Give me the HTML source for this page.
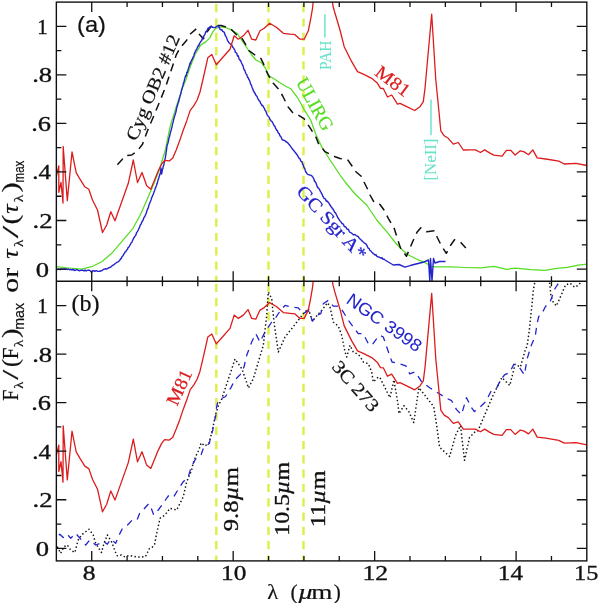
<!DOCTYPE html>
<html><head><meta charset="utf-8"><style>
html,body{margin:0;padding:0;background:#fff;overflow:hidden;}
svg{display:block;will-change:transform;}
</style></head><body>
<svg width="600" height="603" viewBox="0 0 600 603"><line x1="216.3" y1="2.1" x2="216.3" y2="281.3" stroke="#dcf048" stroke-width="2.4" stroke-dasharray="8.2 6.1" stroke-dashoffset="12.3"/>
<line x1="216.3" y1="281.3" x2="216.3" y2="560.9" stroke="#dcf048" stroke-width="2.4" stroke-dasharray="8.2 6.1" stroke-dashoffset="11.9"/>
<line x1="268.5" y1="2.1" x2="268.5" y2="281.3" stroke="#dcf048" stroke-width="2.4" stroke-dasharray="8.2 6.1" stroke-dashoffset="12.3"/>
<line x1="268.5" y1="281.3" x2="268.5" y2="560.9" stroke="#dcf048" stroke-width="2.4" stroke-dasharray="8.2 6.1" stroke-dashoffset="11.9"/>
<line x1="303.5" y1="2.1" x2="303.5" y2="281.3" stroke="#dcf048" stroke-width="2.4" stroke-dasharray="8.2 6.1" stroke-dashoffset="12.3"/>
<line x1="303.5" y1="281.3" x2="303.5" y2="560.9" stroke="#dcf048" stroke-width="2.4" stroke-dasharray="8.2 6.1" stroke-dashoffset="11.9"/>
<defs><clipPath id="ca"><rect x="56.35" y="2.1" width="530.4499999999999" height="279.2"/></clipPath><clipPath id="cb"><rect x="56.35" y="281.3" width="530.4499999999999" height="279.59999999999997"/></clipPath></defs>
<g clip-path="url(#ca)"><path d="M56.4 266.7 L68.3 268.0 L81.7 269.2 L91.7 266.7 L101.7 261.7 L111.7 253.3 L121.7 241.7 L133.0 228.3 L140.5 214.5 L147.3 199.0 L153.3 185.0 L159.3 170.0 L165.3 150.0 L170.4 125.5 L175.1 110.4 L179.1 98.0 L182.5 88.0 L186.0 79.6 L189.9 67.7 L194.9 54.8 L200.9 44.9 L205.8 41.9 L209.8 37.9 L212.8 31.9 L215.8 28.4 L219.8 27.0 L224.7 27.0 L230.0 29.4 L237.3 33.6 L245.0 45.0 L251.7 55.0 L256.0 60.0 L261.3 62.7 L265.3 68.0 L269.3 76.0 L274.7 79.3 L280.0 82.7 L285.3 86.0 L290.7 88.7 L297.3 97.3 L304.0 109.3 L310.7 120.0 L316.0 134.7 L321.7 146.7 L330.0 160.0 L340.0 175.0 L346.0 183.0 L355.0 194.0 L366.7 205.0 L376.7 220.0 L386.7 231.7 L396.0 243.5 L402.0 249.5 L408.0 254.8 L417.0 259.3 L424.5 262.3 L430.5 266.0 L435.0 266.8 L450.0 266.8 L465.0 267.5 L480.8 267.9 L493.8 266.4 L506.8 269.4 L515.5 268.1 L530.7 269.7 L544.8 270.3 L556.7 268.4 L567.5 267.3 L578.3 265.1 L587.0 264.2" fill="none" stroke="#55dd22" stroke-width="1.25" stroke-linejoin="round"/><path d="M117.4 164.8 L121.7 160.0 L125.0 155.8 L131.7 155.0 L137.5 150.8 L142.5 144.2 L147.1 131.7 L153.8 115.8 L160.4 99.9 L165.7 86.6 L171.0 70.7 L176.3 54.8 L180.0 48.0 L186.5 40.5 L190.0 34.3 L196.3 28.8 L199.7 34.7 L203.4 38.8 L207.0 32.0 L211.0 26.5 L215.0 25.5 L221.0 25.5 L226.0 27.0 L231.0 29.0 L236.7 35.0 L241.7 38.0 L245.0 43.3 L248.0 50.0 L255.0 55.0 L260.8 58.3 L263.3 63.3 L265.0 68.0 L268.0 74.7 L273.3 83.3 L278.7 89.3 L282.7 96.0 L288.0 106.7 L293.3 113.3 L298.7 115.3 L304.0 118.7 L309.3 126.7 L316.0 137.3 L318.3 143.3 L325.0 151.7 L335.0 156.7 L340.0 158.5 L347.5 159.5 L352.0 166.0 L355.0 171.0 L361.5 176.5 L364.0 182.0 L367.5 189.0 L370.0 195.0 L374.0 202.0 L380.0 204.5 L384.0 210.0 L388.3 218.3 L394.2 228.3 L397.5 239.0 L400.5 248.0 L406.5 256.3 L412.5 242.0 L417.0 232.3 L420.8 227.8 L426.8 231.8 L434.3 230.8 L437.3 237.5 L441.0 245.0 L446.3 253.3 L450.8 245.0 L454.5 239.8 L460.5 242.0 L465.8 248.0" fill="none" stroke="#111" stroke-width="1.5" stroke-linejoin="round" stroke-dasharray="8.2 5.84"/><path d="M56.4 269.7 L57.6 269.4 L58.9 269.1 L60.1 269.7 L61.3 268.9 L62.5 269.4 L63.8 269.1 L65.0 269.2 L66.1 268.8 L67.2 269.5 L68.3 269.0 L69.5 269.7 L70.6 269.4 L71.7 270.0 L72.8 269.5 L73.9 270.0 L75.0 270.5 L76.1 269.7 L77.3 269.8 L78.4 270.4 L79.5 270.8 L80.6 270.4 L81.7 270.3 L82.8 270.2 L83.9 271.0 L85.0 269.9 L86.1 271.0 L87.2 270.4 L88.3 270.2 L89.4 270.3 L90.5 270.8 L91.5 272.5 L92.5 270.8 L93.8 270.7 L95.0 271.3 L96.2 270.7 L97.5 271.2 L98.8 271.4 L100.0 271.3 L101.1 270.7 L102.2 270.5 L103.3 269.5 L104.4 269.1 L105.6 268.8 L106.7 269.0 L107.8 268.3 L108.9 267.7 L110.0 267.5 L110.9 266.9 L111.8 266.1 L112.7 265.2 L113.6 265.1 L114.5 264.3 L115.5 263.1 L116.4 262.8 L117.3 262.1 L118.2 261.8 L119.1 261.0 L120.0 260.0 L120.6 258.8 L121.2 258.7 L121.9 256.7 L122.5 256.2 L123.1 255.6 L123.8 254.0 L124.4 253.4 L125.0 251.9 L125.6 251.8 L126.2 250.9 L126.9 249.8 L127.5 249.2 L128.1 247.6 L128.8 247.1 L129.4 246.1 L130.0 245.0 L130.6 244.1 L131.1 242.9 L131.7 242.4 L132.2 241.5 L132.8 240.0 L133.3 239.2 L133.9 237.5 L134.4 237.2 L135.0 236.2 L135.5 235.6 L136.1 234.4 L136.6 232.7 L137.2 231.9 L137.7 231.2 L138.3 230.0 L138.8 228.4 L139.3 227.9 L139.8 226.5 L140.2 225.4 L140.7 224.3 L141.2 224.1 L141.7 222.3 L142.2 221.4 L142.7 220.6 L143.2 220.1 L143.7 218.1 L144.1 217.5 L144.6 216.6 L145.1 216.0 L145.6 214.5 L146.0 213.8 L146.4 212.9 L146.8 211.1 L147.1 210.3 L147.5 209.2 L147.9 208.7 L148.3 207.8 L148.7 205.8 L149.1 204.8 L149.5 203.8 L149.8 202.8 L150.2 202.1 L150.6 201.1 L151.0 200.0 L151.4 198.7 L151.8 197.3 L152.2 196.7 L152.6 195.6 L153.0 194.8 L153.4 194.2 L153.7 192.9 L154.1 191.6 L154.5 190.7 L154.9 189.7 L155.3 187.9 L155.7 187.8 L156.1 186.3 L156.5 185.5 L156.8 184.5 L157.2 183.3 L157.6 181.7 L157.9 180.6 L158.3 179.2 L158.7 178.7 L159.0 176.9 L159.4 175.8 L159.8 174.9 L160.1 173.7 L160.5 173.0 L160.6 171.6 L160.8 170.0 L160.9 168.7 L161.0 168.0 L161.1 168.8 L161.2 169.9 L161.3 171.4 L161.4 172.2 L161.5 174.0 L161.8 173.3 L162.0 171.9 L162.3 170.2 L162.6 169.2 L162.9 168.2 L163.1 167.1 L163.4 165.6 L163.7 165.4 L163.9 164.4 L164.2 162.7 L164.5 161.6 L164.8 160.0 L165.0 158.9 L165.3 158.2 L165.5 156.8 L165.6 155.6 L165.8 155.1 L166.0 153.1 L166.2 151.7 L166.3 151.7 L166.5 150.0 L166.7 148.3 L166.8 147.6 L167.0 146.4 L167.3 144.7 L167.6 144.2 L167.8 143.7 L168.1 142.4 L168.4 141.1 L168.7 139.5 L168.9 138.5 L169.2 137.2 L169.5 136.8 L169.8 135.4 L170.0 134.6 L170.3 132.9 L170.6 131.7 L170.9 131.3 L171.1 130.4 L171.4 129.1 L171.7 128.0 L172.0 126.9 L172.2 125.7 L172.5 124.0 L172.8 123.2 L173.1 122.1 L173.4 120.9 L173.7 119.4 L174.0 118.3 L174.2 117.5 L174.5 116.4 L174.8 115.8 L175.1 115.0 L175.4 113.3 L175.7 112.8 L176.0 111.8 L176.2 110.7 L176.5 108.9 L176.8 107.6 L177.1 106.6 L177.4 105.8 L177.7 104.3 L178.0 103.3 L178.3 102.7 L178.6 101.9 L178.9 100.8 L179.2 99.2 L179.5 98.3 L179.8 97.4 L180.1 95.5 L180.4 95.1 L180.7 94.3 L180.9 93.0 L181.2 91.9 L181.5 90.5 L181.8 89.0 L182.1 88.7 L182.4 87.0 L182.7 86.5 L183.0 85.6 L183.3 83.8 L183.6 82.8 L183.9 82.3 L184.2 81.0 L184.5 79.6 L184.9 78.1 L185.3 76.6 L185.7 75.5 L186.1 76.1 L186.4 74.8 L186.8 72.2 L187.2 72.6 L187.6 71.9 L188.0 69.7 L188.4 68.9 L188.8 67.1 L189.2 66.4 L189.7 64.3 L190.1 62.9 L190.5 63.9 L190.9 61.7 L191.4 60.9 L191.9 59.5 L192.4 59.3 L192.9 57.1 L193.4 57.0 L193.9 55.7 L194.4 53.3 L194.9 52.8 L195.4 51.3 L195.9 50.4 L196.4 49.3 L196.9 49.0 L197.4 47.3 L197.9 46.7 L198.4 45.1 L198.9 45.8 L199.4 43.6 L199.9 42.9 L200.5 41.8 L201.0 41.1 L201.6 40.8 L202.2 38.7 L202.8 38.8 L203.3 36.9 L203.9 35.9 L204.5 35.0 L205.1 34.0 L205.6 31.8 L206.2 31.8 L206.8 30.9 L207.6 29.2 L208.3 27.9 L209.1 28.6 L209.8 27.0 L211.1 26.4 L212.5 27.3 L213.8 27.5 L214.9 27.6 L216.1 26.9 L217.2 26.0 L218.3 26.0 L218.9 27.0 L219.6 28.1 L220.2 29.6 L220.8 29.9 L221.8 29.7 L222.7 31.4 L223.7 31.9 L224.2 32.3 L224.7 33.4 L225.2 35.5 L225.7 35.9 L226.2 37.0 L226.7 37.9 L227.2 39.6 L227.7 41.1 L228.2 41.2 L228.7 42.4 L229.7 43.5 L230.7 44.1 L231.7 45.0 L232.3 46.1 L232.9 47.5 L233.6 48.0 L234.2 49.2 L234.8 50.1 L235.4 52.2 L236.1 52.7 L236.7 53.3 L237.2 55.1 L237.7 56.3 L238.2 55.8 L238.7 57.4 L239.2 59.3 L239.7 60.0 L240.2 59.9 L240.7 60.8 L241.2 62.2 L241.7 63.3 L242.1 63.9 L242.6 65.2 L243.1 66.1 L243.5 67.9 L243.9 69.1 L244.4 70.3 L244.9 70.5 L245.3 72.0 L245.8 73.3 L246.3 74.2 L246.8 74.6 L247.3 76.5 L247.8 77.6 L248.3 77.7 L248.8 79.5 L249.3 80.0 L249.7 80.9 L250.1 82.1 L250.5 83.8 L250.9 84.7 L251.3 84.9 L251.7 86.3 L252.1 87.5 L252.5 88.4 L252.9 89.3 L253.3 90.7 L253.9 91.5 L254.5 93.0 L255.1 93.2 L255.7 94.9 L256.3 95.8 L256.9 96.3 L257.5 97.7 L258.1 99.1 L258.7 100.0 L259.4 101.0 L260.0 101.5 L260.7 103.6 L261.4 104.3 L262.0 105.6 L262.7 105.5 L263.3 106.7 L264.0 108.0 L264.5 108.4 L265.0 110.3 L265.5 110.7 L266.0 111.6 L266.5 112.9 L267.0 114.5 L267.5 115.4 L268.0 116.0 L268.7 116.7 L269.3 117.6 L270.0 119.5 L270.6 120.1 L271.3 121.2 L272.0 121.5 L272.6 122.5 L273.3 124.0 L273.9 125.3 L274.5 126.0 L275.1 126.6 L275.7 128.7 L276.3 129.3 L276.9 130.6 L277.5 130.7 L278.1 132.7 L278.7 133.3 L279.3 133.7 L279.8 135.6 L280.4 136.1 L281.0 136.9 L281.6 138.1 L282.1 139.6 L282.7 140.0 L283.7 140.2 L284.7 140.6 L285.7 141.5 L286.7 142.0 L287.4 142.6 L288.2 143.3 L288.9 144.3 L289.6 145.0 L290.4 146.1 L291.1 147.1 L291.8 148.0 L292.6 149.4 L293.3 150.0 L293.9 150.6 L294.6 151.8 L295.2 152.3 L295.9 153.4 L296.5 153.9 L297.2 155.1 L297.8 155.7 L298.5 157.5 L299.1 158.2 L299.8 158.6 L300.4 159.9 L301.1 161.6 L301.7 161.7 L302.2 162.0 L302.6 164.4 L303.1 164.7 L303.5 165.9 L304.0 167.6 L304.4 167.8 L304.9 169.1 L305.3 170.5 L305.8 172.1 L306.2 172.0 L306.7 173.3 L307.7 174.4 L308.7 174.7 L309.7 175.0 L310.7 175.1 L311.7 175.8 L312.3 176.5 L312.8 177.0 L313.4 178.2 L313.9 179.1 L314.5 181.3 L315.0 181.5 L315.6 182.3 L316.1 183.2 L316.7 185.0 L317.2 186.6 L317.8 187.6 L318.4 188.2 L318.9 188.5 L319.4 189.4 L320.0 190.5 L320.6 191.8 L321.1 192.2 L321.6 193.7 L322.2 194.3 L322.8 196.6 L323.3 196.7 L324.0 198.5 L324.8 198.6 L325.5 199.0 L326.3 201.2 L327.0 201.0 L327.8 202.0 L328.5 202.3 L329.3 203.9 L330.0 205.0 L330.6 205.9 L331.2 206.9 L331.8 207.3 L332.4 208.8 L333.0 208.9 L333.6 210.3 L334.1 210.9 L334.7 212.4 L335.3 212.7 L335.9 213.6 L336.5 215.1 L337.1 215.9 L337.7 217.5 L338.3 218.3 L339.0 219.3 L339.8 220.6 L340.5 221.4 L341.3 222.4 L342.0 223.6 L342.8 223.7 L343.5 224.5 L344.3 226.6 L345.0 226.7 L345.8 226.9 L346.7 228.8 L347.5 229.4 L348.4 229.2 L349.2 231.4 L350.0 232.4 L350.9 232.7 L351.7 233.3 L352.8 234.3 L353.9 235.0 L355.0 234.4 L356.1 235.6 L357.2 236.1 L358.3 236.7 L359.1 238.1 L360.0 238.9 L360.8 239.8 L361.6 240.2 L362.5 241.5 L363.3 242.0 L364.2 242.8 L365.0 243.3 L365.7 243.8 L366.3 244.5 L367.0 245.6 L367.6 247.0 L368.3 248.3 L369.1 248.4 L370.0 250.6 L370.8 250.9 L371.6 251.9 L372.5 252.7 L373.3 253.7 L374.2 254.1 L375.0 255.0 L376.0 254.6 L377.0 256.5 L378.0 256.9 L379.0 257.0 L380.0 257.6 L381.0 258.3 L382.0 257.7 L383.0 259.4 L384.0 259.1 L385.0 260.0 L393.3 265.0 L399.0 264.5 L405.0 267.2 L411.0 265.3 L417.0 263.8 L423.0 262.3 L428.5 260.0 L429.8 281.0 L430.5 258.5 L432.0 281.0 L433.5 258.5 L435.0 263.0 L439.5 261.5 L445.5 261.5" fill="none" stroke="#2424cc" stroke-width="1.4" stroke-linejoin="round"/><path d="M56.4 176.0 L58.8 165.8 L58.8 192.3 L61.0 182.4 L63.0 203.0 L63.2 146.5 L67.3 200.6 L72.0 152.0 L76.2 172.6 L80.0 179.2 L84.8 186.8 L88.8 189.3 L92.5 200.0 L97.5 210.0 L102.5 232.5 L106.7 225.0 L110.8 211.7 L115.0 220.8 L128.3 183.3 L133.3 160.0 L137.5 182.5 L142.0 172.5 L146.7 185.8 L150.8 189.2 L158.3 170.8 L161.8 163.8 L164.6 160.3 L169.3 160.9 L172.8 158.0 L176.2 149.9 L179.7 140.6 L183.2 130.2 L186.7 120.9 L190.2 110.4 L193.7 105.8 L197.1 100.0 L200.0 92.0 L203.3 78.0 L207.8 57.8 L211.8 54.6 L216.3 64.7 L221.8 58.5 L230.0 49.2 L234.2 35.8 L238.3 39.2 L243.3 35.8 L248.0 30.3 L251.7 39.2 L255.8 40.0 L260.0 30.8 L264.2 28.3 L269.7 23.3 L276.7 27.5 L283.3 33.3 L290.0 34.2 L295.0 34.7 L300.0 39.2 L304.2 39.2 L308.3 30.8 L310.8 18.3 L312.5 8.3 L315.0 -15.0 L330.0 -15.0 L333.0 6.0 L335.0 13.3 L340.0 30.0 L344.2 46.7 L351.7 61.7 L357.5 71.7 L363.3 74.2 L371.7 78.3 L377.5 83.3 L380.5 88.3 L383.3 88.5 L387.5 97.0 L391.7 95.0 L397.5 104.2 L400.0 103.3 L406.7 106.7 L414.7 110.5 L420.0 106.7 L423.3 101.7 L425.0 88.3 L431.7 14.2 L435.8 80.0 L438.3 105.0 L440.8 130.8 L444.2 135.8 L448.3 138.3 L453.3 144.2 L458.3 142.5 L463.3 150.0 L470.0 149.9 L475.4 149.9 L480.4 152.5 L484.7 149.9 L489.5 152.9 L493.8 155.1 L502.1 156.2 L506.4 150.3 L510.7 150.3 L515.1 155.1 L520.3 150.8 L524.2 151.9 L528.5 154.7 L532.8 149.9 L537.2 157.9 L545.8 159.0 L558.8 161.2 L564.3 164.0 L576.2 163.3 L586.8 165.5" fill="none" stroke="#dc1c1c" stroke-width="1.3" stroke-linejoin="round"/></g>
<g clip-path="url(#cb)"><path d="M57.3 546.7 L60.7 553.3 L64.0 546.7 L67.3 545.0 L70.7 550.0 L74.8 552.5 L78.2 540.0 L81.5 535.0 L89.0 529.2 L93.2 535.0 L95.7 543.3 L101.5 552.5 L104.0 543.3 L107.3 535.0 L111.5 541.7 L115.4 552.0 L117.1 555.8 L121.3 555.0 L125.0 557.0 L129.2 555.4 L133.3 556.3 L136.7 557.0 L140.4 557.0 L145.4 556.7 L147.5 552.5 L149.2 548.8 L152.5 547.0 L154.6 544.2 L156.3 535.4 L160.0 518.3 L165.0 515.0 L170.0 508.3 L176.7 510.0 L183.3 496.7 L186.7 481.7 L191.7 470.0 L193.1 463.2 L196.6 454.5 L198.9 449.9 L201.2 442.9 L205.0 446.0 L209.0 443.0 L212.8 428.4 L215.4 415.0 L216.9 410.4 L218.6 404.6 L221.0 401.2 L225.6 387.4 L231.1 371.0 L235.0 359.0 L242.0 369.0 L248.5 388.0 L253.3 378.7 L258.3 362.0 L263.3 345.3 L266.7 315.3 L268.3 292.0 L271.7 298.7 L274.2 323.7 L278.3 352.0 L285.0 337.0 L291.7 328.7 L298.3 320.3 L303.3 313.7 L308.3 308.7 L312.5 321.2 L315.0 317.8 L321.7 310.3 L327.5 302.8 L330.0 307.0 L333.3 322.0 L338.3 326.2 L341.7 335.3 L345.0 352.0 L346.7 357.0 L350.0 345.3 L353.3 352.0 L356.7 353.7 L360.0 356.2 L363.3 362.0 L368.3 363.7 L371.7 372.0 L373.3 382.0 L378.3 377.0 L380.0 377.8 L386.0 389.8 L390.0 397.7 L393.9 379.8 L397.9 403.7 L398.9 413.6 L403.9 405.7 L408.8 411.6 L413.8 422.6 L418.8 387.8 L423.7 393.7 L433.7 406.7 L436.7 425.5 L439.6 447.4 L449.6 456.4 L455.5 435.5 L460.5 425.5 L464.5 460.3 L469.5 437.5 L475.4 431.5 L478.0 430.7 L485.9 412.1 L493.9 393.5 L501.9 377.6 L509.8 385.5 L515.1 364.3 L520.4 367.0 L525.7 348.4 L527.0 346.8 L529.3 330.5 L531.7 307.2 L533.4 289.7 L534.6 283.3 L535.5 275.0" fill="none" stroke="#111" stroke-width="1.45" stroke-linejoin="round" stroke-dasharray="1.45 2.35"/><path d="M548.5 275.0 L549.8 285.0 L550.9 295.5 L552.7 301.3 L556.2 306.0 L558.5 301.3 L562.0 293.2 L565.5 285.0 L570.2 283.3 L574.8 287.3 L577.8 285.6 L580.7 282.7 L582.0 278.0" fill="none" stroke="#111" stroke-width="1.45" stroke-linejoin="round" stroke-dasharray="1.45 2.35"/><path d="M56.5 536.7 L59.8 534.2 L63.2 537.5 L67.3 534.2 L70.7 538.3 L75.7 533.3 L80.7 539.2 L85.7 545.0 L89.8 540.0 L95.7 545.0 L100.7 543.3 L104.0 541.7 L107.3 544.2 L110.7 539.2 L115.7 543.3 L119.3 534.7 L122.3 528.7 L127.3 525.3 L132.0 520.3 L137.0 520.0 L139.7 513.3 L144.0 509.0 L148.7 503.7 L151.3 508.3 L153.7 515.0 L158.3 510.0 L163.3 503.3 L168.3 495.8 L173.3 497.5 L178.3 489.2 L183.3 481.7 L188.3 476.7 L191.0 467.7 L195.4 459.2 L201.2 454.5 L203.6 447.6 L209.4 443.5 L210.5 437.1 L212.8 430.2 L213.4 424.4 L215.7 416.2 L216.5 407.4 L218.3 400.1 L225.6 396.5 L231.1 387.4 L234.7 380.1 L240.2 374.6 L243.9 367.3 L246.7 355.3 L251.7 342.0 L255.8 333.7 L260.0 342.0 L265.0 332.0 L271.7 322.0 L275.0 318.7 L280.0 311.2 L285.0 305.3 L291.7 307.0 L298.3 307.8 L303.3 313.7 L308.3 310.3 L312.5 321.2 L316.7 315.3 L320.8 313.7 L323.3 303.7 L328.3 300.3 L333.3 306.2 L339.2 306.2 L343.3 312.0 L348.3 320.3 L353.3 327.0 L358.3 333.7 L363.3 333.7 L368.3 343.7 L371.7 345.3 L376.7 338.7 L380.0 335.3 L383.3 337.0 L386.7 347.0 L392.0 362.0 L399.9 363.9 L405.8 365.9 L409.8 373.9 L414.8 371.9 L417.8 375.8 L421.7 381.8 L429.7 387.8 L437.7 392.7 L445.6 397.7 L451.6 400.7 L456.5 409.6 L461.5 414.6 L466.5 397.7 L471.5 407.7 L474.4 411.6 L479.4 407.7 L485.9 401.5 L491.2 390.8 L496.5 388.2 L500.5 380.2 L504.5 374.9 L509.8 372.3 L513.8 364.3 L519.1 367.0 L524.4 374.9 L527.1 359.0 L531.1 345.7 L535.2 336.3 L536.9 324.7 L538.7 316.5 L541.6 314.2 L545.1 307.2 L548.6 302.5 L550.3 301.3 L553.3 293.2 L555.0 288.5 L557.3 285.0 L559.0 282.7 L562.0 278.0" fill="none" stroke="#2424cc" stroke-width="1.3" stroke-linejoin="round" stroke-dasharray="6.8 5.8" stroke-dashoffset="9.7"/><path d="M56.4 455.2 L58.8 445.1 L58.8 471.6 L61.0 461.6 L63.0 482.2 L63.2 425.8 L67.3 479.9 L72.0 431.2 L76.2 451.9 L80.0 458.4 L84.8 466.1 L88.8 468.6 L92.5 479.2 L97.5 489.2 L102.5 511.8 L106.7 504.2 L110.8 490.9 L115.0 500.1 L128.3 462.6 L133.3 439.2 L137.5 461.8 L142.0 451.8 L146.7 465.1 L150.8 468.4 L158.3 450.1 L161.8 443.1 L164.6 439.6 L169.3 440.1 L172.8 437.2 L176.2 429.1 L179.7 419.9 L183.2 409.4 L186.7 400.1 L190.2 389.6 L193.7 385.1 L197.1 379.2 L200.0 371.2 L203.3 357.2 L207.8 337.1 L211.8 333.9 L216.3 343.9 L221.8 337.8 L230.0 328.4 L234.2 315.1 L238.3 318.4 L243.3 315.1 L248.0 309.6 L251.7 318.4 L255.8 319.2 L260.0 310.1 L264.2 307.6 L269.7 302.6 L276.7 306.8 L283.3 312.6 L290.0 313.4 L295.0 313.9 L300.0 318.4 L304.2 318.4 L308.3 310.1 L310.8 297.6 L312.5 287.6 L315.0 264.2 L330.0 264.2 L333.0 285.2 L335.0 292.6 L340.0 309.2 L344.2 325.9 L351.7 340.9 L357.5 350.9 L363.3 353.4 L371.7 357.6 L377.5 362.6 L380.5 367.6 L383.3 367.8 L387.5 376.2 L391.7 374.2 L397.5 383.4 L400.0 382.6 L406.7 385.9 L414.7 389.8 L420.0 385.9 L423.3 380.9 L425.0 367.6 L431.7 293.4 L435.8 359.2 L438.3 384.2 L440.8 410.1 L444.2 415.1 L448.3 417.6 L453.3 423.4 L458.3 421.8 L463.3 429.2 L470.0 429.1 L475.4 429.1 L480.4 431.8 L484.7 429.1 L489.5 432.1 L493.8 434.4 L502.1 435.4 L506.4 429.6 L510.7 429.6 L515.1 434.4 L520.3 430.1 L524.2 431.1 L528.5 433.9 L532.8 429.1 L537.2 437.1 L545.8 438.2 L558.8 440.4 L564.3 443.2 L576.2 442.6 L586.8 444.8" fill="none" stroke="#dc1c1c" stroke-width="1.3" stroke-linejoin="round"/></g>
<rect x="56.35" y="2.1" width="530.4499999999999" height="558.8" fill="none" stroke="#111" stroke-width="1.4"/>
<line x1="56.35" y1="281.3" x2="586.8" y2="281.3" stroke="#111" stroke-width="1.4"/>
<path d="M91.72 560.9v-10M91.72 2.1v10M91.72 281.3v-10M91.72 281.3v10M127.08 560.9v-5M127.08 2.1v5M127.08 281.3v-5M127.08 281.3v5M162.44 560.9v-5M162.44 2.1v5M162.44 281.3v-5M162.44 281.3v5M197.81 560.9v-5M197.81 2.1v5M197.81 281.3v-5M197.81 281.3v5M233.18 560.9v-10M233.18 2.1v10M233.18 281.3v-10M233.18 281.3v10M268.54 560.9v-5M268.54 2.1v5M268.54 281.3v-5M268.54 281.3v5M303.91 560.9v-5M303.91 2.1v5M303.91 281.3v-5M303.91 281.3v5M339.27 560.9v-5M339.27 2.1v5M339.27 281.3v-5M339.27 281.3v5M374.64 560.9v-10M374.64 2.1v10M374.64 281.3v-10M374.64 281.3v10M410.00 560.9v-5M410.00 2.1v5M410.00 281.3v-5M410.00 281.3v5M445.37 560.9v-5M445.37 2.1v5M445.37 281.3v-5M445.37 281.3v5M480.73 560.9v-5M480.73 2.1v5M480.73 281.3v-5M480.73 281.3v5M516.10 560.9v-10M516.10 2.1v10M516.10 281.3v-10M516.10 281.3v10M551.46 560.9v-5M551.46 2.1v5M551.46 281.3v-5M551.46 281.3v5M56.35 269.05h10M586.8 269.05h-10M56.35 548.30h10M586.8 548.30h-10M56.35 244.78h5M586.8 244.78h-5M56.35 524.03h5M586.8 524.03h-5M56.35 220.51h10M586.8 220.51h-10M56.35 499.76h10M586.8 499.76h-10M56.35 196.24h5M586.8 196.24h-5M56.35 475.49h5M586.8 475.49h-5M56.35 171.97h10M586.8 171.97h-10M56.35 451.22h10M586.8 451.22h-10M56.35 147.70h5M586.8 147.70h-5M56.35 426.95h5M586.8 426.95h-5M56.35 123.43h10M586.8 123.43h-10M56.35 402.68h10M586.8 402.68h-10M56.35 99.16h5M586.8 99.16h-5M56.35 378.41h5M586.8 378.41h-5M56.35 74.89h10M586.8 74.89h-10M56.35 354.14h10M586.8 354.14h-10M56.35 50.62h5M586.8 50.62h-5M56.35 329.87h5M586.8 329.87h-5M56.35 26.35h10M586.8 26.35h-10M56.35 305.60h10M586.8 305.60h-10" stroke="#111" stroke-width="1.3" fill="none"/>
<text transform="translate(42.54,33.87) rotate(0.00) scale(0.957,1)" text-anchor="middle" font-family="Liberation Serif" font-size="21.8" fill="#111" stroke="#111" stroke-width="0.35">1</text><text transform="translate(42.17,82.41) rotate(0.00) scale(1.223,1)" text-anchor="middle" font-family="Liberation Serif" font-size="21.8" fill="#111" stroke="#111" stroke-width="0.35">.8</text><text transform="translate(41.09,130.95) rotate(0.00) scale(1.212,1)" text-anchor="middle" font-family="Liberation Serif" font-size="21.8" fill="#111" stroke="#111" stroke-width="0.35">.6</text><text transform="translate(41.53,179.49) rotate(0.00) scale(1.143,1)" text-anchor="middle" font-family="Liberation Serif" font-size="21.8" fill="#111" stroke="#111" stroke-width="0.35">.4</text><text transform="translate(42.47,228.03) rotate(0.00) scale(1.223,1)" text-anchor="middle" font-family="Liberation Serif" font-size="21.8" fill="#111" stroke="#111" stroke-width="0.35">.2</text><text transform="translate(42.30,276.57) rotate(0.00) scale(1.223,1)" text-anchor="middle" font-family="Liberation Serif" font-size="21.8" fill="#111" stroke="#111" stroke-width="0.35">0</text><text transform="translate(42.54,313.12) rotate(0.00) scale(0.957,1)" text-anchor="middle" font-family="Liberation Serif" font-size="21.8" fill="#111" stroke="#111" stroke-width="0.35">1</text><text transform="translate(42.17,361.66) rotate(0.00) scale(1.223,1)" text-anchor="middle" font-family="Liberation Serif" font-size="21.8" fill="#111" stroke="#111" stroke-width="0.35">.8</text><text transform="translate(41.09,410.20) rotate(0.00) scale(1.212,1)" text-anchor="middle" font-family="Liberation Serif" font-size="21.8" fill="#111" stroke="#111" stroke-width="0.35">.6</text><text transform="translate(41.53,458.74) rotate(0.00) scale(1.143,1)" text-anchor="middle" font-family="Liberation Serif" font-size="21.8" fill="#111" stroke="#111" stroke-width="0.35">.4</text><text transform="translate(42.47,507.28) rotate(0.00) scale(1.223,1)" text-anchor="middle" font-family="Liberation Serif" font-size="21.8" fill="#111" stroke="#111" stroke-width="0.35">.2</text><text transform="translate(42.30,555.82) rotate(0.00) scale(1.223,1)" text-anchor="middle" font-family="Liberation Serif" font-size="21.8" fill="#111" stroke="#111" stroke-width="0.35">0</text><text transform="translate(89.12,580.12) rotate(0.00) scale(1.174,1)" text-anchor="middle" font-family="Liberation Serif" font-size="21.8" fill="#111" stroke="#111" stroke-width="0.35">8</text><text transform="translate(233.67,580.12) rotate(0.00) scale(1.160,1)" text-anchor="middle" font-family="Liberation Serif" font-size="21.8" fill="#111" stroke="#111" stroke-width="0.35">10</text><text transform="translate(375.25,580.12) rotate(0.00) scale(1.180,1)" text-anchor="middle" font-family="Liberation Serif" font-size="21.8" fill="#111" stroke="#111" stroke-width="0.35">12</text><text transform="translate(510.45,580.12) rotate(0.00) scale(1.158,1)" text-anchor="middle" font-family="Liberation Serif" font-size="21.8" fill="#111" stroke="#111" stroke-width="0.35">14</text><text transform="translate(586.14,580.12) rotate(0.00) scale(1.113,1)" text-anchor="middle" font-family="Liberation Serif" font-size="21.8" fill="#111" stroke="#111" stroke-width="0.35">15</text>
<text transform="translate(91.53,32.29) rotate(0.00) scale(1.051,1)" text-anchor="middle" font-family="Liberation Sans" font-size="22.5" fill="#111" stroke="#111" stroke-width="0.22">(a)</text><text transform="translate(85.45,311.02) rotate(0.00) scale(1.047,1)" text-anchor="middle" font-family="Liberation Serif" font-size="23" fill="#111" stroke="#111" stroke-width="0.22">(b)</text><text transform="translate(158.36,89.65) rotate(-67.25) scale(1.129,1)" text-anchor="middle" font-family="Liberation Serif" font-size="18" fill="#111" stroke="#111" stroke-width="0.22">Cyg OB2 #12</text><text transform="translate(309.35,107.13) rotate(61.00) scale(0.986,1)" text-anchor="middle" font-family="Liberation Serif" font-size="19" fill="#55dd22" stroke="#55dd22" stroke-width="0.22">ULIRG</text><text transform="translate(330.86,55.31) rotate(-90.00) scale(0.951,1)" text-anchor="middle" font-family="Liberation Serif" font-size="16.2" fill="#66e2c8" stroke="#66e2c8" stroke-width="0.05">PAH</text><text transform="translate(435.62,159.52) rotate(-90.00) scale(1.019,1)" text-anchor="middle" font-family="Liberation Serif" font-size="16.5" fill="#66e2c8" stroke="#66e2c8" stroke-width="0.05">[NeII]</text><text transform="translate(389.15,86.07) rotate(37.00) scale(1.102,1)" text-anchor="middle" font-family="Liberation Serif" font-size="18.5" fill="#dc1c1c" stroke="#dc1c1c" stroke-width="0.22">M81</text><text transform="translate(327.27,226.73) rotate(47.30) scale(1.142,1)" text-anchor="middle" font-family="Liberation Serif" font-size="18.5" fill="#2424cc" stroke="#2424cc" stroke-width="0.22">GC Sgr A*</text><text transform="translate(184.87,389.83) rotate(-65.00) scale(1.063,1)" text-anchor="middle" font-family="Liberation Serif" font-size="18.5" fill="#dc1c1c" stroke="#dc1c1c" stroke-width="0.22">M81</text><text transform="translate(380.91,327.52) rotate(35.20) scale(1.060,1)" text-anchor="middle" font-family="Liberation Sans" font-size="17.5" fill="#2424cc" stroke="#2424cc" stroke-width="0.05">NGC 3998</text><text transform="translate(351.10,390.14) rotate(48.60) scale(1.133,1)" text-anchor="middle" font-family="Liberation Serif" font-size="18.5" fill="#111" stroke="#111" stroke-width="0.22">3C 273</text><path d="M324.9 14.3V37.6M431 99.5V135.3" stroke="#66e2c8" stroke-width="1.4"/><g transform="translate(17.8,400.2) rotate(-90)"><text transform="translate(-0.61,0.00) scale(0.906,1)" font-family="Liberation Serif" font-size="22.3" fill="#111" stroke="#111" stroke-width="0.18">F</text><text transform="translate(11.54,5.00) scale(1.116,1)" font-family="Liberation Serif" font-size="13" fill="#111" stroke="#111" stroke-width="0.18">λ</text><text transform="translate(20.50,0.00) scale(1.631,1)" font-family="Liberation Serif" font-size="22.3" fill="#111" stroke="#111" stroke-width="0.18">/</text><text transform="translate(33.32,0.00) scale(1.073,1)" font-family="Liberation Serif" font-size="22.3" fill="#111" stroke="#111" stroke-width="0.18">(</text><text transform="translate(41.07,0.00) scale(0.943,1)" font-family="Liberation Serif" font-size="22.3" fill="#111" stroke="#111" stroke-width="0.18">F</text><text transform="translate(53.13,5.00) scale(1.133,1)" font-family="Liberation Serif" font-size="13" fill="#111" stroke="#111" stroke-width="0.18">λ</text><text transform="translate(62.13,0.00) scale(1.294,1)" font-family="Liberation Serif" font-size="22.3" fill="#111" stroke="#111" stroke-width="0.18">)</text><text transform="translate(70.48,5.70) scale(1.015,1)" font-family="Liberation Sans" font-size="14" fill="#111" stroke="#111" stroke-width="0.18">max</text><text transform="translate(107.51,0.00) scale(1.331,1)" font-family="Liberation Serif" font-size="22.3" fill="#111" stroke="#111" stroke-width="0.18">or</text><text transform="translate(141.55,0.00) scale(1.167,1)" font-family="Liberation Serif" font-size="22.3" font-style="italic" fill="#111" stroke="#111" stroke-width="0.18">τ</text><text transform="translate(153.22,5.00) scale(1.167,1)" font-family="Liberation Serif" font-size="13" fill="#111" stroke="#111" stroke-width="0.18">λ</text><text transform="translate(162.00,0.00) scale(2.038,1)" font-family="Liberation Serif" font-size="22.3" fill="#111" stroke="#111" stroke-width="0.18">/</text><text transform="translate(175.68,0.00) scale(1.319,1)" font-family="Liberation Serif" font-size="22.3" fill="#111" stroke="#111" stroke-width="0.18">(</text><text transform="translate(186.35,0.00) scale(1.167,1)" font-family="Liberation Serif" font-size="22.3" font-style="italic" fill="#111" stroke="#111" stroke-width="0.18">τ</text><text transform="translate(198.01,5.00) scale(1.200,1)" font-family="Liberation Serif" font-size="13" fill="#111" stroke="#111" stroke-width="0.18">λ</text><text transform="translate(207.58,0.00) scale(1.380,1)" font-family="Liberation Serif" font-size="22.3" fill="#111" stroke="#111" stroke-width="0.18">)</text><text transform="translate(217.75,5.70) scale(0.826,1)" font-family="Liberation Sans" font-size="14" fill="#111" stroke="#111" stroke-width="0.18">max</text></g><g transform="translate(0,598.5)"><text transform="translate(267.13,0.00) scale(1.078,1)" font-family="Liberation Serif" font-size="21" fill="#111" stroke="#111" stroke-width="0.18">λ</text><text transform="translate(290.53,0.00) scale(1.027,1)" font-family="Liberation Serif" font-size="21" fill="#111" stroke="#111" stroke-width="0.18">(</text><text transform="translate(297.38,0.00) scale(1.345,1)" font-family="Liberation Serif" font-size="21" font-style="italic" fill="#111" stroke="#111" stroke-width="0.18">µ</text><text transform="translate(311.25,0.00) scale(1.300,1)" font-family="Liberation Serif" font-size="21" fill="#111" stroke="#111" stroke-width="0.18">m</text><text transform="translate(333.87,0.00) scale(1.007,1)" font-family="Liberation Serif" font-size="21" fill="#111" stroke="#111" stroke-width="0.18">)</text></g><text transform="translate(237.8,499.2) rotate(-90)" text-anchor="middle" font-family="Liberation Serif" font-size="22" fill="#111" stroke="#111" stroke-width="0.35" textLength="64.2" lengthAdjust="spacingAndGlyphs">9.8<tspan font-style="italic">µ</tspan>m</text><text transform="translate(289.4,498.8) rotate(-90)" text-anchor="middle" font-family="Liberation Serif" font-size="22" fill="#111" stroke="#111" stroke-width="0.35" textLength="73.7" lengthAdjust="spacingAndGlyphs">10.5<tspan font-style="italic">µ</tspan>m</text><text transform="translate(324.7,498.9) rotate(-90)" text-anchor="middle" font-family="Liberation Serif" font-size="22" fill="#111" stroke="#111" stroke-width="0.35" textLength="56.7" lengthAdjust="spacingAndGlyphs">11<tspan font-style="italic">µ</tspan>m</text></svg>
</body></html>
